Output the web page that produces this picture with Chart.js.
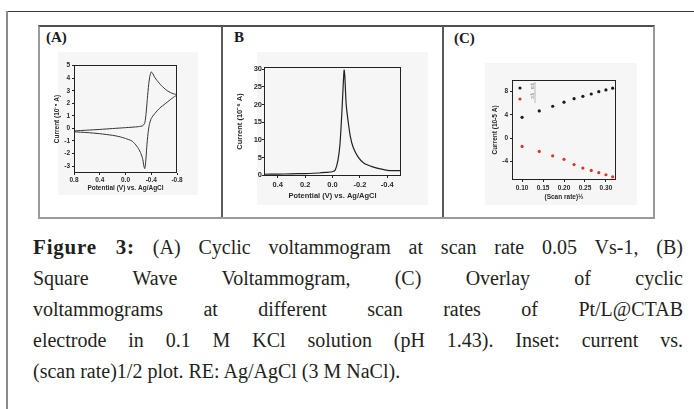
<!DOCTYPE html>
<html>
<head>
<meta charset="utf-8">
<script src="https://cdn.jsdelivr.net/npm/chart.js@4.4.0/dist/chart.umd.min.js"></script>
<style>
  body { margin: 0; width: 694px; height: 409px; background: #fff; position: relative; overflow: hidden; }
  .abs { position: absolute; }
  #outerTop { left: 7px; top: 11px; width: 687px; height: 0; border-top: 1.5px solid #3a3a3a; }
  #outerLeft { left: 6px; top: 11px; width: 2px; height: 398px; background: #8a8a8a; }
  #box { left: 38px; top: 25px; width: 613px; height: 190px; border: 2px solid #9a9a9a; border-top-color: #505050; }
  .divider { top: 26px; width: 2px; height: 191px; background: #5a5a5a; }
  .shade { background: #f6f6f6; }
  .plabel { font-family: "Liberation Serif", serif; font-weight: bold; font-size: 15px; color: #1a1a1a; line-height: 15px; }
  canvas { position: absolute; }
  #caption { left: 33px; top: 232px; width: 650px; font-family: "Liberation Serif", serif; font-size: 20px; line-height: 31px; color: #231f20; }
  #caption .ln { text-align: justify; text-align-last: justify; }
  #caption .last { text-align: left; }
  #caption b { font-size: 21px; letter-spacing: 0.8px; }
</style>
</head>
<body>
<div class="abs" id="outerTop"></div>
<div class="abs" id="outerLeft"></div>
<div class="abs" id="box"></div>
<div class="abs divider" style="left:221px"></div>
<div class="abs divider" style="left:442px"></div>

<div class="abs shade" style="left:58px; top:52px; width:140px; height:143px"></div>
<div class="abs shade" style="left:257px; top:52px; width:171px; height:153px"></div>
<div class="abs shade" style="left:485px; top:63px; width:152px; height:142px"></div>

<div class="abs plabel" style="left:46px; top:30px">(A)</div>
<div class="abs plabel" style="left:234px; top:30px">B</div>
<div class="abs plabel" style="left:454px; top:31px">(C)</div>

<canvas id="chartA" width="146" height="145" style="left:44px; top:55px"></canvas>
<canvas id="chartB" width="180" height="148" style="left:228px; top:57px"></canvas>
<canvas id="chartC" width="145" height="135" style="left:480px; top:70px"></canvas>

<div class="abs" id="caption">
  <div class="ln"><b>Figure 3:</b> (A) Cyclic voltammogram at scan rate 0.05 Vs-1, (B)</div>
  <div class="ln">Square Wave Voltammogram, (C) Overlay of cyclic</div>
  <div class="ln">voltammograms at different scan rates of Pt/L@CTAB</div>
  <div class="ln">electrode in 0.1 M KCl solution (pH 1.43). Inset: current vs.</div>
  <div class="last">(scan rate)1/2 plot. RE: Ag/AgCl (3 M NaCl).</div>
</div>

<script>
// (A) cyclic voltammogram, forward scan then reverse scan
const cvPotential = [0.8, 0.6, 0.4, 0.2, 0.0, -0.2, -0.27, -0.3, -0.32, -0.34, -0.36, -0.38, -0.4, -0.42, -0.45, -0.5, -0.55, -0.6, -0.65, -0.7, -0.75, -0.8,
                     -0.75, -0.7, -0.65, -0.6, -0.55, -0.5, -0.45, -0.4, -0.37, -0.35, -0.33, -0.315, -0.3, -0.285, -0.27, -0.24, -0.2, -0.15, -0.1, 0.0, 0.1, 0.2, 0.4, 0.6, 0.8];
const cvCurrent = [-0.2, -0.14, -0.08, -0.01, 0.06, 0.14, 0.22, 0.45, 1.2, 2.4, 3.5, 4.2, 4.5, 4.4, 4.1, 3.75, 3.45, 3.2, 3.0, 2.85, 2.75, 2.68,
                   2.5, 2.3, 2.1, 1.9, 1.7, 1.45, 1.15, 0.8, 0.3, -0.4, -1.5, -2.6, -3.2, -3.0, -2.5, -2.0, -1.6, -1.25, -1.0, -0.8, -0.65, -0.55, -0.42, -0.33, -0.27];
const cvXTicks = [0.8, 0.4, 0.0, -0.4, -0.8];
const cvYTicks = [5, 4, 3, 2, 1, 0, -1, -2, -3];

// (B) square wave voltammogram
const swvPotential = [0.5, 0.4, 0.3, 0.2, 0.1, 0.05, 0.0, -0.02, -0.04, -0.055, -0.07, -0.08, -0.085, -0.09, -0.1, -0.115, -0.13, -0.15, -0.185, -0.23, -0.3, -0.35, -0.4, -0.45, -0.5];
const swvCurrent = [0.3, 0.35, 0.4, 0.5, 0.65, 0.8, 1.0, 1.5, 4.3, 9, 19, 27, 29.8, 28, 20, 15, 11, 8, 5.3, 3.4, 2.3, 1.8, 1.4, 1.3, 1.3];
const swvXTicks = [0.4, 0.2, 0.0, -0.2, -0.4];
const swvYTicks = [0, 5, 10, 15, 20, 25, 30];

// (C) peak current vs (scan rate)^1/2
const sqrtScanRate = [0.1, 0.141, 0.173, 0.2, 0.224, 0.245, 0.265, 0.283, 0.3, 0.316];
const anodicPeak = [3.6, 4.7, 5.5, 6.2, 6.8, 7.2, 7.6, 8.0, 8.3, 8.6];
const cathodicPeak = [-1.4, -2.25, -3.0, -3.6, -4.5, -5.1, -5.5, -5.9, -6.25, -6.6];
const rateXTicks = [0.10, 0.15, 0.20, 0.25, 0.30];
const rateYTicks = [8, 4, 0, -4];
const legendNames = ['Ipa', 'Ipc'];
const seriesColors = ['#1a1a1a', '#e5312a'];

const inkColor = '#2a2a2a';

function toPoints(xs, ys) {
    return xs.map((x, i) => ({ x: x, y: ys[i] }));
}

// closed box round the plot area
const framePlugin = {
    id: 'frame',
    afterDatasetsDraw(chart) {
        const a = chart.chartArea, c = chart.ctx;
        c.save();
        c.strokeStyle = '#222';
        c.lineWidth = 1;
        c.strokeRect(a.left + 0.5, a.top + 0.5, a.right - a.left - 1, a.bottom - a.top - 1);
        c.restore();
    }
};

// one axis with fixed ticks and a fixed box size
function axis(o) {
    return {
        type: 'linear',
        min: o.min,
        max: o.max,
        reverse: !!o.reverse,
        afterBuildTicks: s => { s.ticks = o.ticks.map(v => ({ value: v })); },
        afterFit: s => { if (s.isHorizontal()) s.height = o.size; else s.width = o.size; },
        grid: { drawOnChartArea: false, drawTicks: true, tickLength: 2, color: '#222' },
        border: { display: false },
        ticks: {
            color: inkColor, padding: o.tickPad, maxRotation: 0, autoSkip: false,
            font: { family: 'Liberation Sans', weight: 'bold', size: o.font },
            callback: o.fmt
        },
        title: {
            display: true, text: o.title, color: inkColor,
            font: { family: 'Liberation Sans', weight: 'bold', size: o.font },
            padding: { top: o.titlePad, bottom: o.titlePad }
        }
    };
}

const baseOptions = (padding, scales) => ({
    responsive: false,
    animation: false,
    layout: { padding: padding },
    plugins: { legend: { display: false }, tooltip: { enabled: false } },
    scales: scales
});

// Panel A
new Chart(document.getElementById('chartA'), {
    type: 'scatter',
    data: {
        datasets: [{
            data: toPoints(cvPotential, cvCurrent),
            showLine: true, pointRadius: 0, borderColor: '#333', borderWidth: 1, tension: 0.2
        }]
    },
    options: baseOptions({ left: 0, top: 10, right: 13, bottom: 0 }, {
        x: axis({ min: -0.8, max: 0.8, reverse: true, ticks: cvXTicks, size: 27, tickPad: 1, font: 6.5,
                  fmt: v => v.toFixed(1), title: 'Potential (V) vs. Ag/AgCl', titlePad: 8 }),
        y: axis({ min: -3.55, max: 5.05, ticks: cvYTicks, size: 30, tickPad: 2, font: 6.5,
                  fmt: v => String(v), title: 'Current (10\u207B\u2075 A)', titlePad: 9.5 })
    }),
    plugins: [framePlugin]
});

// Panel B
new Chart(document.getElementById('chartB'), {
    type: 'scatter',
    data: {
        datasets: [{
            data: toPoints(swvPotential, swvCurrent),
            showLine: true, pointRadius: 0, borderColor: '#222', borderWidth: 1.2, tension: 0.25
        }]
    },
    options: baseOptions({ left: 0, top: 10, right: 7, bottom: 0 }, {
        x: axis({ min: -0.5, max: 0.5, reverse: true, ticks: swvXTicks, size: 29, tickPad: 2, font: 7.5,
                  fmt: v => v.toFixed(1), title: 'Potential (V) vs. Ag/AgCl', titlePad: 4.5 }),
        y: axis({ min: -0.2, max: 30.65, ticks: swvYTicks, size: 36, tickPad: 0, font: 7.5,
                  fmt: v => String(v), title: 'Current (10\u207B\u2076 A)', titlePad: 7.5 })
    }),
    plugins: [framePlugin]
});

// small legend in the top left corner of panel C
const rateLegend = {
    id: 'rateLegend',
    afterDatasetsDraw(chart) {
        const a = chart.chartArea, c = chart.ctx;
        c.save();
        legendNames.forEach((name, i) => {
            c.fillStyle = seriesColors[i];
            c.beginPath();
            c.arc(a.left + 8, a.top + 8 + i * 11, 1.6, 0, Math.PI * 2);
            c.fill();
            c.save();
            c.translate(a.left + 20, a.top + 3 + i * 10);
            c.rotate(Math.PI / 2);
            c.fillStyle = '#888';
            c.font = '4.5px Liberation Sans';
            c.textBaseline = 'middle';
            c.fillText(name, 0, 0);
            c.restore();
        });
        c.strokeStyle = '#aaa';
        c.lineWidth = 0.8;
        c.beginPath();
        c.moveTo(a.left + 23, a.top + 2);
        c.lineTo(a.left + 23, a.top + 23);
        c.stroke();
        c.restore();
    }
};

// Panel C
new Chart(document.getElementById('chartC'), {
    type: 'scatter',
    data: {
        datasets: [
            { data: toPoints(sqrtScanRate, anodicPeak), pointRadius: 1.6, pointBorderWidth: 0, backgroundColor: seriesColors[0] },
            { data: toPoints(sqrtScanRate, cathodicPeak), pointRadius: 1.6, pointBorderWidth: 0, backgroundColor: seriesColors[1] }
        ]
    },
    options: baseOptions({ left: 0, top: 10, right: 9, bottom: 0 }, {
        x: axis({ min: 0.076, max: 0.324, ticks: rateXTicks, size: 25, tickPad: 2.5, font: 6.5,
                  fmt: v => v.toFixed(2), title: '(Scan rate)\u00BD', titlePad: 4 }),
        y: axis({ min: -7.15, max: 10, ticks: rateYTicks, size: 32, tickPad: 2, font: 6.5,
                  fmt: v => String(v), title: 'Current (10-5 A)', titlePad: 11 })
    }),
    plugins: [framePlugin, rateLegend]
});
</script>
</body>
</html>
